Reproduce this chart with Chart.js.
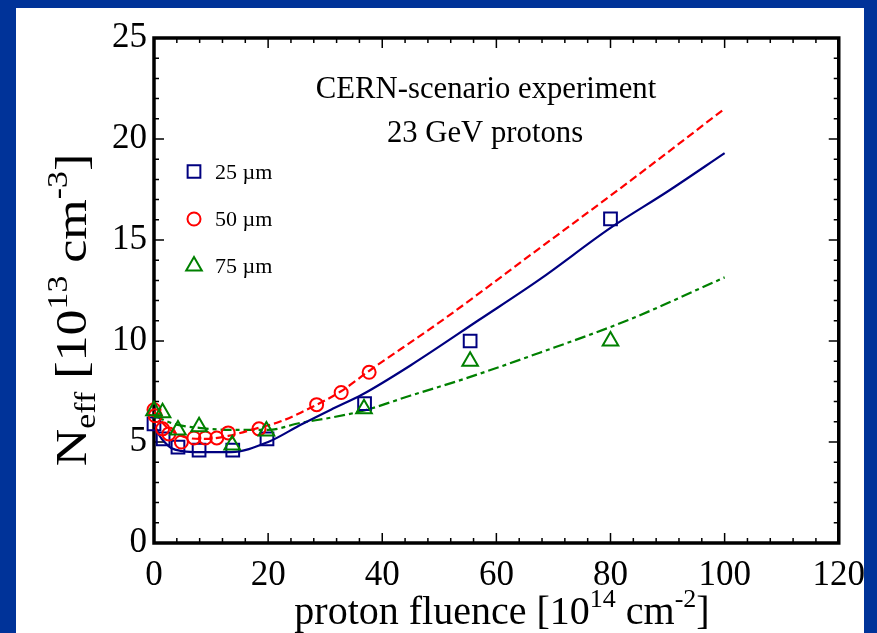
<!DOCTYPE html>
<html><head><meta charset="utf-8">
<script src="https://cdn.jsdelivr.net/npm/chart.js@4.4.1/dist/chart.umd.min.js"></script>
<style>html,body{margin:0;padding:0;background:#003399;overflow:hidden}#wrap{width:877px;height:633px;position:relative}</style>
</head><body><div id="wrap"><canvas id="c" width="877" height="633" style="width:877px;height:633px"></canvas></div>
<script>
// ---- data ----
const xTicks = [0, 20, 40, 60, 80, 100, 120];
const yTicks = [0, 5, 10, 15, 20, 25];

const seriesNames = ['25 \u00b5m', '50 \u00b5m', '75 \u00b5m'];

const sq25X = [0, 1.6, 4.2, 7.9, 13.8, 19.8, 36.9, 55.4, 80];
const sq25Y = [5.9, 5.15, 4.75, 4.6, 4.6, 5.15, 6.9, 10.0, 16.05];

const ci50X = [0, 0.2, 1.5, 2.6, 4.8, 7.0, 9.0, 11.0, 13.0, 18.4, 28.5, 32.8, 37.7];
const ci50Y = [6.6, 6.3, 5.65, 5.4, 5.0, 5.2, 5.2, 5.2, 5.45, 5.65, 6.85, 7.45, 8.45];

const tr75X = [0, 1.5, 4.2, 7.9, 13.7, 19.7, 36.8, 55.4, 80];
const tr75Y = [6.55, 6.45, 5.6, 5.75, 4.85, 5.55, 6.65, 9.0, 10.0];

const fit25X = [0, 1, 2, 3, 5, 8, 13.5, 20, 25.7, 31, 36.5, 45, 57, 67.6, 80, 90, 100];
const fit25Y = [5.9, 5.3, 4.95, 4.7, 4.55, 4.5, 4.5, 5.0, 5.85, 6.6, 7.35, 8.8, 11.05, 13.05, 15.6, 17.4, 19.3];

const fit50X = [0, 2, 4, 6, 9, 13, 18.3, 22, 25.7, 32.7, 37.6, 50.7, 67.6, 83.8, 100];
const fit50Y = [6.5, 5.8, 5.4, 5.2, 5.15, 5.3, 5.7, 6.0, 6.45, 7.5, 8.5, 11.06, 14.6, 18.0, 21.5];

const fit75X = [0, 2, 4.2, 7.9, 13.4, 20, 25.7, 30.9, 36.7, 45, 54.1, 67.6, 83.3, 100];
const fit75Y = [6.35, 6.05, 5.85, 5.7, 5.6, 5.6, 5.95, 6.2, 6.55, 7.3, 8.1, 9.42, 11.06, 13.15];

const COL_BLUE = '#000080', COL_RED = '#ff0000', COL_GREEN = '#008000';
const SERIF = '"Liberation Serif", "Times New Roman", serif';

const pts = (xs, ys) => xs.map((x, i) => ({x, y: ys[i]}));

function markerDS(label, xs, ys, color, style, r, order) {
  return {type: 'scatter', label, data: pts(xs, ys), showLine: false, pointStyle: style,
    pointRadius: r, pointHoverRadius: r, pointBorderWidth: 2, pointBorderColor: color,
    pointBackgroundColor: 'rgba(0,0,0,0)', borderColor: color, backgroundColor: 'rgba(0,0,0,0)',
    clip: false, order};
}
function lineDS(xs, ys, color, dash, order) {
  return {type: 'line', label: '', data: pts(xs, ys), borderColor: color, borderWidth: 2.2,
    borderDash: dash, pointRadius: 0, fill: false, cubicInterpolationMode: 'monotone',
    tension: 0.4, order};
}

function drawRich(ctx, parts, size, sx) {
  const measure = p => { ctx.font = (p[1] ? size * 0.65 : size) + 'px ' + SERIF; return ctx.measureText(p[0]).width; };
  let total = 0; parts.forEach(p => total += measure(p));
  ctx.save();
  ctx.scale(sx, 1);
  let x = -total / 2;
  ctx.textBaseline = 'alphabetic'; ctx.textAlign = 'left';
  parts.forEach(p => {
    const w = measure(p);
    const dy = p[1] === 1 ? -size * 0.42 : (p[1] === -1 ? size * 0.2 : 0);
    ctx.fillText(p[0], x, dy);
    x += w;
  });
  ctx.restore();
}

const decor = {
  id: 'decor',
  beforeDraw(chart) {
    const ctx = chart.ctx;
    ctx.save();
    ctx.fillStyle = '#003399';
    ctx.fillRect(0, 0, chart.width, chart.height);
    ctx.fillStyle = '#ffffff';
    ctx.fillRect(16, 8, 848, chart.height - 8);
    ctx.restore();
  },
  beforeDatasetsDraw(chart) {
    const ctx = chart.ctx, a = chart.chartArea, xs = chart.scales.x, ys = chart.scales.y;
    ctx.save();
    ctx.strokeStyle = '#000'; ctx.lineWidth = 1.5;
    ctx.beginPath();
    for (let v = 0; v <= 120; v += 4) {
      const px = xs.getPixelForValue(v), L = (v % 20 === 0) ? 10 : 5;
      ctx.moveTo(px, a.bottom); ctx.lineTo(px, a.bottom - L);
      ctx.moveTo(px, a.top); ctx.lineTo(px, a.top + L);
    }
    for (let v = 0; v <= 25; v += 1) {
      const py = ys.getPixelForValue(v), L = (v % 5 === 0) ? 10 : 5;
      ctx.moveTo(a.left, py); ctx.lineTo(a.left + L, py);
      ctx.moveTo(a.right, py); ctx.lineTo(a.right - L, py);
    }
    ctx.stroke();
    ctx.lineWidth = 3.5;
    ctx.strokeRect(a.left, a.top, a.right - a.left, a.bottom - a.top);
    ctx.restore();
  },
  afterDraw(chart) {
    const ctx = chart.ctx;
    ctx.save();
    ctx.fillStyle = '#000';
    // x title
    ctx.save(); ctx.translate(502, 624);
    drawRich(ctx, [['proton fluence [10', 0], ['14', 1], [' cm', 0], ['-2', 1], [']', 0]], 40, 1);
    ctx.restore();
    // y title
    ctx.save(); ctx.translate(86, 310); ctx.rotate(-Math.PI / 2); ctx.scale(1, 0.85);
    drawRich(ctx, [['N', 0], ['eff', -1], [' [10', 0], ['13', 1], [' cm', 0], ['-3', 1], [']', 0]], 52, 1);
    ctx.restore();
    // annotation
    ctx.save(); ctx.translate(486, 98); drawRich(ctx, [['CERN-scenario experiment', 0]], 32, 0.96); ctx.restore();
    ctx.save(); ctx.translate(485, 142); drawRich(ctx, [['23 GeV protons', 0]], 32, 0.96); ctx.restore();
    // legend
    const items = [
      {name: seriesNames[0], color: COL_BLUE, style: 'rect', r: 9, y: 171.5},
      {name: seriesNames[1], color: COL_RED, style: 'circle', r: 6.5, y: 219},
      {name: seriesNames[2], color: COL_GREEN, style: 'triangle', r: 9, y: 266}
    ];
    items.forEach(it => {
      ctx.strokeStyle = it.color; ctx.lineWidth = 2;
      ctx.beginPath();
      if (it.style === 'rect') { const s = it.r * Math.SQRT1_2; ctx.rect(194 - s, it.y - s, 2 * s, 2 * s); }
      else if (it.style === 'circle') { ctx.arc(194, it.y, it.r, 0, Math.PI * 2); }
      else { const r = it.r; ctx.moveTo(194, it.y - r); ctx.lineTo(194 + r * 0.866, it.y + r / 2); ctx.lineTo(194 - r * 0.866, it.y + r / 2); ctx.closePath(); }
      ctx.stroke();
      ctx.fillStyle = '#000';
      ctx.font = '22px ' + SERIF; ctx.textAlign = 'left'; ctx.textBaseline = 'alphabetic';
      ctx.fillText(it.name, 215, it.y + 7);
    });
    ctx.restore();
  }
};

const tickFont = {family: SERIF, size: 35};
new Chart(document.getElementById('c'), {
  data: {datasets: [
    markerDS(seriesNames[2], tr75X, tr75Y, COL_GREEN, 'triangle', 9, 0),
    markerDS(seriesNames[1], ci50X, ci50Y, COL_RED, 'circle', 6.5, 1),
    markerDS(seriesNames[0], sq25X, sq25Y, COL_BLUE, 'rect', 9, 2),
    lineDS(fit25X, fit25Y, COL_BLUE, [], 3),
    lineDS(fit50X, fit50Y, COL_RED, [8, 4], 4),
    lineDS(fit75X, fit75Y, COL_GREEN, [11, 4, 4, 4], 5)
  ]},
  options: {
    responsive: false, animation: false, devicePixelRatio: 1,
    layout: {padding: {left: 0, right: 37, top: 38, bottom: 0}},
    plugins: {legend: {display: false}, tooltip: {enabled: false}},
    scales: {
      x: {type: 'linear', min: 0, max: 120,
        afterBuildTicks(s) { s.ticks = xTicks.map(v => ({value: v})); },
        ticks: {font: tickFont, color: '#000', padding: 12, maxRotation: 0, autoSkip: false},
        grid: {display: false, drawTicks: false}, border: {display: false},
        afterFit(s) { s.height = 90; }},
      y: {type: 'linear', min: 0, max: 25,
        afterBuildTicks(s) { s.ticks = yTicks.map(v => ({value: v})); },
        ticks: {font: tickFont, color: '#000', padding: 7, autoSkip: false},
        grid: {display: false, drawTicks: false}, border: {display: false},
        afterFit(s) { s.width = 154; }}
    }
  },
  plugins: [decor]
});
</script></body></html>
